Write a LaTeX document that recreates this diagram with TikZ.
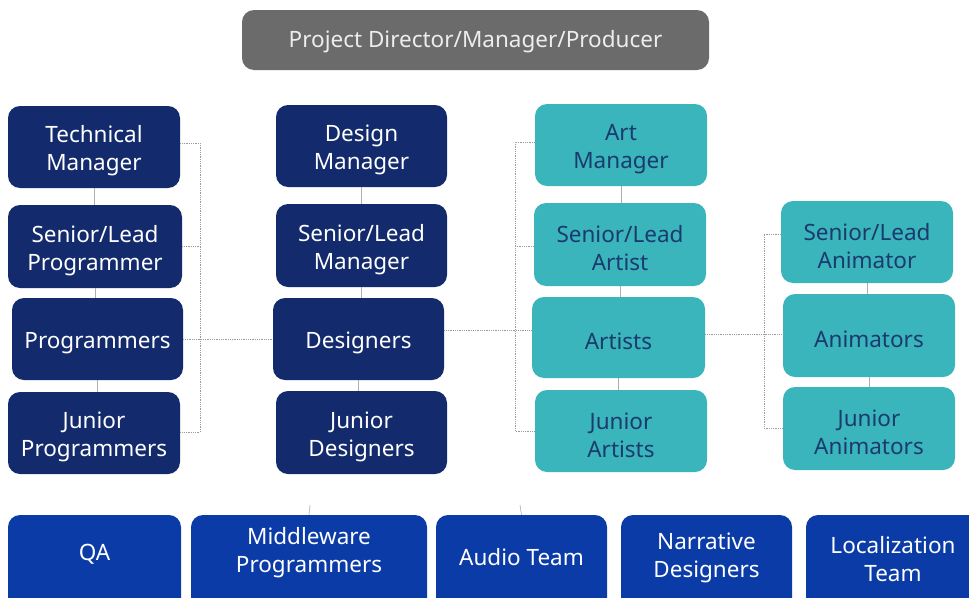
\documentclass[tikz,border=0pt]{standalone}
\usepackage{fontspec}
\setmainfont{Noto Sans}
\definecolor{navy}{HTML}{132A6C}
\definecolor{teal}{HTML}{3AB5BB}
\definecolor{royal}{HTML}{0B3BA6}
\definecolor{topgray}{HTML}{6B6B6B}
\definecolor{tealtext}{HTML}{1B3A6E}
\definecolor{linegray}{HTML}{9A9A9A}
\begin{document}
\begin{tikzpicture}[x=1pt,y=-1pt,
  box/.style={rounded corners=12pt, inner sep=0pt},
  lbl/.style={align=center, inner sep=0pt, font=\fontsize{22.5}{28}\selectfont, yshift=-4pt},
  navybox/.style={box, fill=navy, label={[lbl, text=white]center:{#1}}},
  tealbox/.style={box, fill=teal, label={[lbl, text=tealtext]center:{#1}}},
  royalbox/.style={box, fill=royal, minimum height=110},
  txt/.style={align=center, text=white, font=\fontsize{22.5}{28}\selectfont, inner sep=0pt},
  dotline/.style={draw=linegray, line width=0.8pt, densely dotted},
  tick/.style={draw=linegray!80, line width=0.6pt}]
\useasboundingbox (0,0) rectangle (969,597);
\fill[white] (0,0) rectangle (969,597);

\node[box, fill=topgray, minimum width=467, minimum height=60,
  label={[lbl, text=white!93!black, yshift=2pt]center:{Project Director/Manager/Producer}}] (top) at (475.5,40) {};

% column 1
\node[navybox={Technical\\Manager}, minimum width=172, minimum height=82] (tm) at (94,147) {};
\node[navybox={Senior/Lead\\Programmer}, minimum width=174, minimum height=83] (slp) at (95,246.5) {};
\node[navybox={Programmers}, minimum width=171, minimum height=82] (prog) at (97.5,339) {};
\node[navybox={Junior\\Programmers}, minimum width=172, minimum height=82] (jp) at (94,433) {};

% column 2
\node[navybox={Design\\Manager}, minimum width=171, minimum height=82] (dm) at (361.5,146) {};
\node[navybox={Senior/Lead\\Manager}, minimum width=171, minimum height=83] (slm) at (361.5,245.5) {};
\node[navybox={Designers}, minimum width=171, minimum height=82] (des) at (358.5,339) {};
\node[navybox={Junior\\Designers}, minimum width=171, minimum height=83] (jd) at (361.5,432.5) {};

% column 3
\node[tealbox={Art\\Manager}, minimum width=172, minimum height=82] (am) at (621,145) {};
\node[tealbox={Senior/Lead\\Artist}, minimum width=172, minimum height=83] (sla) at (620,244.5) {};
\node[tealbox={Artists}, minimum width=173, minimum height=81] (art) at (618.5,337.5) {};
\node[tealbox={Junior\\Artists}, minimum width=172, minimum height=82] (ja) at (621,431) {};

% column 4
\node[tealbox={Senior/Lead\\Animator}, minimum width=172, minimum height=82] (slan) at (867,242) {};
\node[tealbox={Animators}, minimum width=172, minimum height=83] (an) at (869,335.5) {};
\node[tealbox={Junior\\Animators}, minimum width=172, minimum height=83] (jan) at (869,428.5) {};

% bottom row
\node[royalbox, minimum width=173] (qa) at (94.5,570) {};
\node[royalbox, minimum width=236] (mp) at (309,570) {};
\node[royalbox, minimum width=171] (at) at (521.5,570) {};
\node[royalbox, minimum width=171] (nd) at (706.5,570) {};
\node[royalbox, minimum width=174] (lt) at (893,570) {};
\node[txt] (qat) at (94.5,554) {QA};
\node[txt] (mpt) at (309,553) {Middleware\\Programmers};
\node[txt] (att) at (521.5,557) {Audio Team};
\node[txt] (ndt) at (706.5,558) {Narrative\\Designers};
\node[txt] (ltt) at (893,559) {Localization\\Team};

% short solid links within columns
\foreach \a/\b in {tm/slp,slp/prog,prog/jp,dm/slm,slm/des,des/jd,am/sla,sla/art,art/ja,slan/an,an/jan}{
  \draw[tick] (\a.south) -- (\a.south |- \b.north);
}
\coordinate (m1) at (310,505);
\coordinate (m2) at (520,505);
\draw[tick] (m1) -- (mp.north);
\draw[tick] (m2) -- (at.north);

% dotted brackets
\coordinate (b1) at (200,0);
\coordinate (b3) at (515,0);
\coordinate (b4) at (764,0);
\draw[dotline] (tm.east |- 0,143) -- (b1 |- 0,143) -- (b1 |- 0,432) -- (jp.east |- 0,432);
\draw[dotline] (slp.east) -- (slp.east -| b1);
\draw[dotline] (prog.east) -- (prog.east -| des.west);

\draw[dotline] (am.west |- 0,142) -- (b3 |- 0,142) -- (b3 |- 0,431) -- (ja.west |- 0,431);
\draw[dotline] (sla.west |- 0,246) -- (b3 |- 0,246);
\draw[dotline] (des.east |- 0,330) -- (art.west |- 0,330);

\draw[dotline] (slan.west |- 0,234) -- (b4 |- 0,234) -- (b4 |- 0,428) -- (jan.west |- 0,428);
\draw[dotline] (art.east |- 0,334) -- (an.west |- 0,334);
\end{tikzpicture}
\end{document}
